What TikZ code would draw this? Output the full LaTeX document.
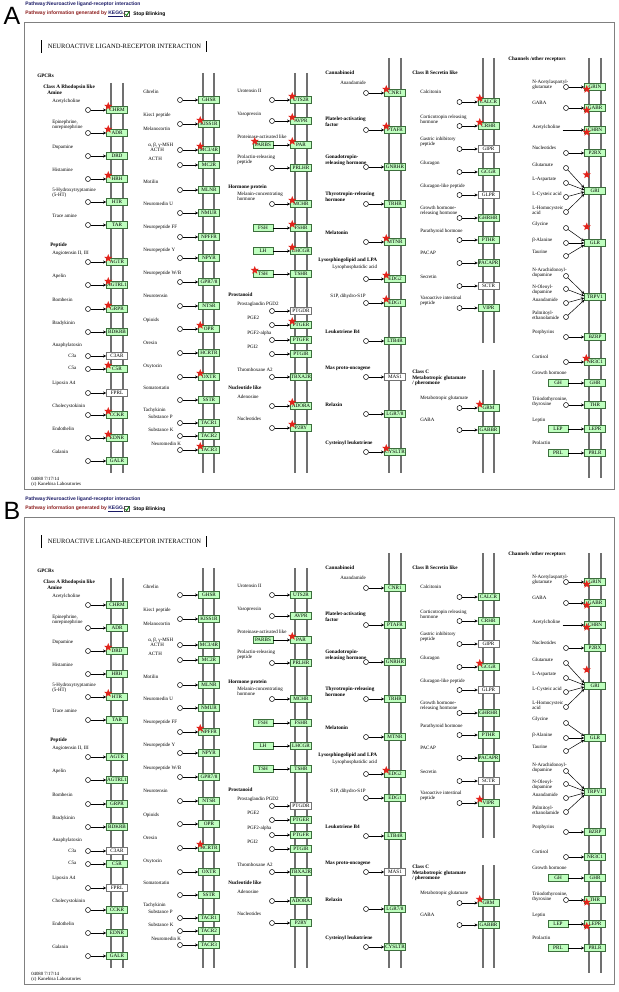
\documentclass[tikz,border=0pt]{standalone}
\usepackage{fontspec}
\setmainfont{Liberation Serif}
\newfontfamily\hsans{Liberation Sans}
\usetikzlibrary{arrows.meta,shapes.geometric}

\definecolor{kgreen}{HTML}{BFFFBF}
\definecolor{kedge}{HTML}{3C6E3C}
\definecolor{kmem}{HTML}{707070}
\definecolor{kstar}{HTML}{E3231B}
\definecolor{kred}{HTML}{8B1A1A}
\definecolor{knavy}{HTML}{1A1A66}
\definecolor{kframe}{HTML}{808080}

\tikzset{
  lbl/.style={anchor=west, inner sep=0, align=left, font=\fontsize{5}{5.3}\selectfont},
  hdr/.style={lbl, font=\fontsize{5.2}{5.6}\selectfont\bfseries},
  gene/.style={draw=kedge, fill=kgreen, line width=0.5, minimum width=21, minimum height=7, inner sep=0, font=\fontsize{5.2}{5.2}\selectfont},
  gwhite/.style={fill=white, draw=black!55},
  lig/.style={circle, draw, fill=white, line width=0.5, minimum size=5, inner sep=0},
  hit/.style={star, star points=5, star point ratio=2.3, fill=kstar, minimum size=8.5, inner sep=0},
  mem/.style={kmem, line width=1.8},
}

% label of a receptor row
\newcommand\klab[4][lbl]{\node[#1] (\pn-#2-t) at (#3) {#4};}
% receptor with a ligand circle
\newcommand\krec[4][]{%
  \node[gene,#1] (\pn-#2) at (\bx,#3) {#4};
  \node[lig] (\pn-#2-c) at (\bx-29,#3) {};
  \draw[->] (\pn-#2-c) -- (\pn-#2);}
% receptor with a ligand box
\newcommand\kbox[5]{%
  \node[gene] (\pn-#1) at (\bx,#2) {#3};
  \node[gene,minimum width=20] (\pn-#1-b) at (#5,#2) {#4};
  \draw[->] (\pn-#1-b) -- (\pn-#1);}

\newcommand\kpanel{%
  \node[inner sep=0, font=\hsans\fontsize{25}{25}\selectfont] (\pn-tag) at (12,16) {\pn};
  \node[lbl, font=\hsans\bfseries\fontsize{5}{5}\selectfont, text=knavy] (\pn-path) at (25,4) {Pathway:Neuroactive ligand-receptor interaction};
  \node[lbl, font=\hsans\bfseries\fontsize{5}{5}\selectfont, text=kred] (\pn-info) at (25,14) {Pathway information generated by \textcolor{knavy}{\underline{KEGG}}.};
  \node[draw=black!70, fill=white, minimum size=5, inner sep=0, line width=0.4] (\pn-chk) at (127,14) {};
  \draw[green!50!black, line width=0.8] ([shift={(-1.6,0)}]\pn-chk.center) -- ([shift={(-0.3,1.5)}]\pn-chk.center) -- ([shift={(2.3,-2.6)}]\pn-chk.center);
  \node[lbl, font=\hsans\bfseries\fontsize{5}{5}\selectfont] (\pn-stop) at (133,14) {Stop Blinking};
  \draw[kframe, line width=0.8] (24,22) rectangle (614,489);
  \node[draw, line width=0.6, double, double distance=0.7, minimum width=165, minimum height=12, inner sep=0, font=\fontsize{6.5}{6.5}\selectfont] (\pn-title) at (124.5,46.5) {NEUROACTIVE LIGAND-RECEPTOR INTERACTION};
  \node[lbl, font=\fontsize{4.8}{5.6}\selectfont] (\pn-foot) at (31,482) {04080 7/17/14\\(c) Kanehisa Laboratories};
  % membranes
  \foreach \x/\a/\b in {111/83/473,123/83/473,203/73/473,214/73/473,295/73/473,307/73/473,389/58/473,401/58/473,483/58/343,494/58/343,483/370/473,494/370/473,589/58/478,601/58/478}
    \draw[mem] (\x,\a) -- (\x,\b);
  % class A, amine and peptide
  \node[hdr] (\pn-gpcr) at (37,76) {GPCRs};
  \node[hdr] (\pn-clA) at (43,87) {Class A Rhodopsin like};
  \node[hdr] (\pn-amine) at (47,93) {Amine};
  \def\bx{117}
  \klab{CHRM}{52,101}{Acetylcholine}\krec{CHRM}{110}{CHRM}
  \klab{ADR}{52,125}{Epinephrine,\\norepinephrine}\krec{ADR}{133}{ADR}
  \klab{DRD}{52,147}{Dopamine}\krec{DRD}{156}{DRD}
  \klab{HRH}{52,170}{Histamine}\krec{HRH}{179}{HRH}
  \klab{HTR}{52,193}{5-Hydroxytryptamine\\(5-HT)}\krec{HTR}{202}{HTR}
  \klab{TAR}{52,216}{Trace amine}\krec{TAR}{225}{TAR}
  \node[hdr] (\pn-pep) at (50,245) {Peptide};
  \klab{AGTR}{52,253}{Angiotensin II, III}\krec{AGTR}{262}{AGTR}
  \klab{AGTRL1}{52,276}{Apelin}\krec{AGTRL1}{285}{AGTRL1}
  \klab{GRPR}{52,300}{Bombesin}\krec{GRPR}{309}{GRPR}
  \klab{BDKRB}{52,323}{Bradykinin}\krec{BDKRB}{332}{BDKRB}
  \node[lbl] (\pn-ana) at (52,345) {Anaphylatoxin};
  \klab{C3AR}{68,356}{C3a}\krec[gwhite]{C3AR}{356}{C3AR}
  \klab{C5R}{68,368}{C5a}\krec{C5R}{369}{C5R}
  \klab{FPRL}{52,383}{Lipoxin A4}\krec[gwhite]{FPRL}{393}{FPRL}
  \klab{CCKR}{52,406}{Cholecystokinin}\krec{CCKR}{415}{CCKR}
  \klab{EDNR}{52,429}{Endothelin}\krec{EDNR}{438}{EDNR}
  \klab{GALR}{52,452}{Galanin}\krec{GALR}{461}{GALR}
  % peptide, second column
  \def\bx{209}
  \klab{GHSR}{143,92}{Ghrelin}\krec{GHSR}{100}{GHSR}
  \klab{KISS1R}{143,115}{Kiss1 peptide}\krec{KISS1R}{124}{KISS1R}
  \node[lbl] (\pn-mc) at (143,129) {Melanocortin};
  \klab{MC}{148,147}{α, β, γ-MSH\\\hspace*{2pt}ACTH}\krec{MC}{150}{MC3/4R}
  \klab{MC2R}{148,159}{ACTH}\krec{MC2R}{165}{MC2R}
  \klab{MLNR}{143,182}{Motilin}\krec{MLNR}{190}{MLNR}
  \klab{NMUR}{143,204}{Neuromedin U}\krec{NMUR}{213}{NMUR}
  \klab{NPFFR}{143,227}{Neuropeptide FF}\krec{NPFFR}{237}{NPFFR}
  \klab{NPYR}{143,250}{Neuropeptide Y}\krec{NPYR}{258}{NPYR}
  \klab{GPR}{143,273}{Neuropeptide W/B}\krec{GPR}{282}{GPR7/8}
  \klab{NTSR}{143,296}{Neurotensin}\krec{NTSR}{306}{NTSR}
  \klab{OPR}{143,320}{Opioids}\krec{OPR}{329}{OPR}
  \klab{HCRTR}{143,343}{Orexin}\krec{HCRTR}{353}{HCRTR}
  \klab{OXTR}{143,366}{Oxytocin}\krec{OXTR}{377}{OXTR}
  \klab{SSTR}{143,388}{Somatostatin}\krec{SSTR}{400}{SSTR}
  \node[lbl] (\pn-tac) at (143,410) {Tachykinin};
  \klab{TACR1}{148,417}{Substance P}\krec{TACR1}{423}{TACR1}
  \klab{TACR2}{148,430}{Substance K}\krec{TACR2}{436}{TACR2}
  \klab{TACR3}{151,444}{Neuromedin K}\krec{TACR3}{450}{TACR3}
  % peptide, hormone protein, prostanoid, nucleotide
  \def\bx{301}
  \klab{UTS2R}{237,91}{Urotensin II}\krec{UTS2R}{100}{UTS2R}
  \klab{AVPR}{237,114}{Vasopressin}\krec{AVPR}{121}{AVPR}
  \klab{PAR}{237,137}{Proteinase-activated like}\kbox{PAR}{145}{PAR}{PARBS}{263}
  \klab{PRLHR}{237,160}{Prolactin-releasing\\peptide}\krec{PRLHR}{168}{PRLHR}
  \node[hdr] (\pn-horm) at (228,187) {Hormone protein};
  \klab{MCHR}{237,196}{Melanin-concentrating\\hormone}\krec{MCHR}{204}{MCHR}
  \kbox{FSHR}{228}{FSHR}{FSH}{263}
  \kbox{LHCGR}{251}{LHCGR}{LH}{263}
  \kbox{TSHR}{274}{TSHR}{TSH}{263}
  \node[hdr] (\pn-pros) at (228,295) {Prostanoid};
  \klab{PTGDR}{237,304}{Prostaglandin PGD2}\krec[gwhite]{PTGDR}{311}{PTGDR}
  \klab{PTGER}{247,318}{PGE2}\krec{PTGER}{325}{PTGER}
  \klab{PTGFR}{247,333}{PGF2-alpha}\krec{PTGFR}{340}{PTGFR}
  \klab{PTGIR}{247,347}{PGI2}\krec{PTGIR}{354}{PTGIR}
  \klab{TBXA2R}{237,370}{Thromboxane A2}\krec{TBXA2R}{377}{TBXA2R}
  \node[hdr] (\pn-nucl) at (228,388) {Nucleotide like};
  \klab{ADORA}{237,397}{Adenosine}\krec{ADORA}{406}{ADORA}
  \klab{P2RY}{237,419}{Nucleotides}\krec{P2RY}{428}{P2RY}
  % lipids and others
  \def\bx{395}
  \node[hdr] (\pn-cann) at (325,73) {Cannabinoid};
  \klab{CNR1}{340,83}{Anandamide}\krec{CNR1}{93}{CNR1}
  \klab[hdr]{PTAFR}{325,122}{Platelet-activating\\factor}\krec{PTAFR}{130}{PTAFR}
  \klab[hdr]{GNRHR}{325,160}{Gonadotropin-\\releasing hormone}\krec{GNRHR}{167}{GNRHR}
  \klab[hdr]{TRHR}{325,197}{Thyrotropin-releasing\\hormone}\krec{TRHR}{204}{TRHR}
  \klab[hdr]{MTNR}{325,233}{Melatonin}\krec{MTNR}{242}{MTNR}
  \node[hdr] (\pn-lyso) at (318,260) {Lysosphingolipid and LPA};
  \klab{EDGa}{332,267}{Lysophosphatidic acid}\krec{EDGa}{279}{EDG2}
  \klab{EDGb}{330,296}{S1P, dihydro-S1P}\krec{EDGb}{303}{EDG1}
  \klab[hdr]{LTB4R}{325,332}{Leukotriene B4}\krec{LTB4R}{341}{LTB4R}
  \klab[hdr]{MAS1}{325,368}{Mas proto-oncogene}\krec[gwhite]{MAS1}{377}{MAS1}
  \klab[hdr]{LGR}{325,405}{Relaxin}\krec{LGR}{414}{LGR7/8}
  \klab[hdr]{CYSLTR}{325,443}{Cysteinyl leukotriene}\krec{CYSLTR}{452}{CYSLTR}
  % class B and class C
  \def\bx{488.5}
  \node[hdr] (\pn-clB) at (412,73) {Class B Secretin like};
  \klab{CALCR}{420,92}{Calcitonin}\krec{CALCR}{102}{CALCR}
  \klab{CRHR}{420,119.5}{Corticotropin releasing\\hormone}\krec{CRHR}{126}{CRHR}
  \klab{GIPR}{420,141.5}{Gastric inhibitory\\peptide}\krec[gwhite]{GIPR}{149}{GIPR}
  \klab{GCGR}{420,163}{Glucagon}\krec{GCGR}{172}{GCGR}
  \klab{GLPR}{420,186}{Glucagon-like peptide}\krec[gwhite]{GLPR}{195}{GLPR}
  \klab{GHRHR}{420,210.5}{Growth hormone-\\releasing hormone}\krec{GHRHR}{218}{GHRHR}
  \klab{PTHR}{420,231}{Parathyroid hormone}\krec{PTHR}{240}{PTHR}
  \klab{PACAPR}{420,253}{PACAP}\krec{PACAPR}{263}{PACAPR}
  \klab{SCTR}{420,277}{Secretin}\krec[gwhite]{SCTR}{286}{SCTR}
  \klab{VIPR}{420,300.5}{Vasoactive intestinal\\peptide}\krec{VIPR}{308}{VIPR}
  \node[hdr] (\pn-clC) at (412,378) {Class C\\Metabotropic glutamate\\/ pheromone};
  \klab{GRM}{420,398}{Metabotropic glutamate}\krec{GRM}{408}{GRM}
  \klab{GABBR}{420,420}{GABA}\krec{GABBR}{430}{GABBR}
  % channels and other receptors
  \def\bx{595}
  \node[hdr] (\pn-chan) at (508,59) {Channels /other receptors};
  \klab{GRIN}{532,84.5}{N-Acetylaspartyl-\\glutamate}\krec{GRIN}{87}{GRIN}
  \klab{GABR}{532,103}{GABA}\krec{GABR}{108}{GABR}
  \klab{CHRN}{532,127}{Acetylcholine}
  \node[gene] (\pn-CHRN) at (\bx,130) {CHRN};
  \draw[->] ([xshift=2pt]\pn-CHRN-t.east |- \pn-CHRN) -- (\pn-CHRN);
  \klab{P2RX}{532,148}{Nucleotides}\krec{P2RX}{153}{P2RX}
  \node[gene] (\pn-GRI) at (\bx,191) {GRI};
  \klab{GRIa}{532,165}{Glutamate}
  \klab{GRIb}{532,179}{L-Aspartate}
  \klab{GRIc}{532,194}{L-Cysteic acid}
  \klab{GRId}{532,210.5}{L-Homocysteic\\acid}
  \foreach \i/\y/\dy in {1/168/-3,2/183/-1,3/197/1,4/212/3} {
    \node[lig] (\pn-GRI-c\i) at (566,\y) {};
    \draw[->] (\pn-GRI-c\i) -- ([shift={(0,\dy)}]\pn-GRI.west);}
  \node[gene] (\pn-GLR) at (\bx,243) {GLR};
  \klab{GLRa}{532,224}{Glycine}
  \klab{GLRb}{532,240}{β-Alanine}
  \klab{GLRc}{532,252}{Taurine}
  \foreach \i/\y/\dy in {1/228/-2,2/243/0,3/256/2} {
    \node[lig] (\pn-GLR-c\i) at (566,\y) {};
    \draw[->] (\pn-GLR-c\i) -- ([shift={(0,\dy)}]\pn-GLR.west);}
  \node[gene] (\pn-TRPV1) at (\bx,297) {TRPV1};
  \klab{TRPa}{532,272.5}{N-Arachidonoyl-\\dopamine}
  \klab{TRPb}{532,289.5}{N-Oleoyl-\\dopamine}
  \klab{TRPc}{532,300}{Anandamide}
  \klab{TRPd}{532,315}{Palmitoyl-\\ethanolamide}
  \foreach \i/\y/\dy in {1/276/-3,2/289/-1,3/303/1,4/317/3} {
    \node[lig] (\pn-TRPV1-c\i) at (566,\y) {};
    \draw[->] (\pn-TRPV1-c\i) -- ([shift={(0,\dy)}]\pn-TRPV1.west);}
  \klab{BZRP}{532,332}{Porphyrins}\krec{BZRP}{337}{BZRP}
  \klab{NR3C1}{532,357}{Cortisol}\krec{NR3C1}{362}{NR3C1}
  \klab{GHR}{532,373}{Growth hormone}\kbox{GHR}{383}{GHR}{GH}{558}
  \klab{THR}{532,402}{Triiodothyronine,\\thyroxine}\krec{THR}{405}{THR}
  \klab{LEPR}{532,420}{Leptin}\kbox{LEPR}{429}{LEPR}{LEP}{558}
  \klab{PRLR}{532,443}{Prolactin}\kbox{PRLR}{453}{PRLR}{PRL}{558}
}

\begin{document}
\begin{tikzpicture}[x=1pt, y=-1pt, >={Stealth[length=3.2pt,width=3pt]}, line width=0.5pt]
  \useasboundingbox (0,0) rectangle (618,992);
  \def\pn{A}
  \kpanel
  \foreach \g in {CHRM,ADR,HRH,AGTR,AGTRL1,GRPR,C5R,CCKR,EDNR,KISS1R,MC,OPR,OXTR,TACR3,UTS2R,AVPR,PAR-b,PAR,MCHR,FSHR,LHCGR,TSHR-b,PTGER,ADORA,P2RY,CNR1,PTAFR,MTNR,EDGa,EDGb,CYSLTR,CALCR,CRHR,GRM,NR3C1}
    \node[hit] (\pn-\g-s) at ([shift={(2,0)}]\pn-\g.north west) {};
  \foreach \g in {GRIN,GABR,CHRN}
    \node[hit] (\pn-\g-s) at ([shift={(2.5,-1.5)}]\pn-\g.south west) {};
  \foreach \g in {GRI,GLR}
    \node[hit] (\pn-\g-s) at ([shift={(2.5,-12.5)}]\pn-\g.north west) {};
  \begin{scope}[shift={(0,495)}]
    \def\pn{B}
    \kpanel
    \foreach \g in {DRD,HTR,NPFFR,HCRTR,PAR,EDGa,GCGR,VIPR,GRM}
      \node[hit] (\pn-\g-s) at ([shift={(2,0)}]\pn-\g.north west) {};
    \foreach \g in {GRIN,GABR,CHRN,THR,LEPR}
      \node[hit] (\pn-\g-s) at ([shift={(2.5,-1.5)}]\pn-\g.south west) {};
    \foreach \g in {GRI}
      \node[hit] (\pn-\g-s) at ([shift={(2.5,-12.5)}]\pn-\g.north west) {};
  \end{scope}
\end{tikzpicture}
\end{document}
